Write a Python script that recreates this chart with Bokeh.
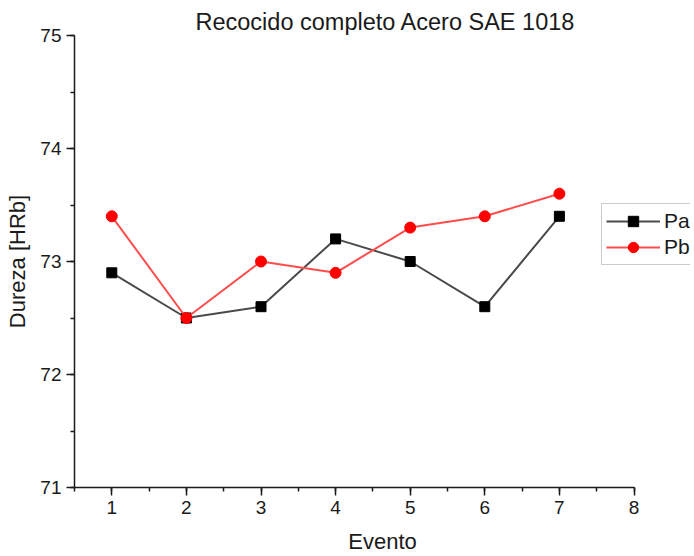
from bokeh.plotting import figure
from bokeh.models import Range1d, SingleIntervalTicker, Legend, LegendItem
from bokeh.embed import file_html
from bokeh.resources import INLINE

evento = [1, 2, 3, 4, 5, 6, 7]
pa = [72.9, 72.5, 72.6, 73.2, 73.0, 72.6, 73.4]
pb = [73.4, 72.5, 73.0, 72.9, 73.3, 73.4, 73.6]

FONT = "Liberation Sans"
INK = "#1a1a1a"

W, H = 690, 556
LEFT, TOP, BOTTOM = 74, 35, H - 35 - 452
# frame: canvas x 74..690, x unit ~74.6 px
p = figure(width=W, height=H, output_backend="svg", toolbar_location=None,
           x_range=Range1d(0.5, 0.5 + (W - LEFT) / 74.6), y_range=Range1d(71, 75),
           min_border_left=LEFT, min_border_right=0, min_border_top=TOP, min_border_bottom=BOTTOM)

p.title.text = "Recocido completo Acero SAE 1018"
p.title.text_font = FONT
p.title.text_font_size = "23.5px"
p.title.text_font_style = "normal"
p.title.align = "left"
p.title.offset = 121
p.title.standoff = 1
p.title.text_color = INK

p.grid.visible = False
p.outline_line_color = None

for ax, lab in ((p.xaxis[0], "Evento"), (p.yaxis[0], "Dureza [HRb]")):
    ax.axis_label = lab
    ax.axis_label_text_font = FONT
    ax.axis_label_text_font_size = "22px"
    ax.axis_label_text_font_style = "normal"
    ax.axis_label_text_color = INK
    ax.major_label_text_font = FONT
    ax.major_label_text_font_size = "19px"
    ax.major_label_text_color = INK
    ax.axis_line_width = 1.5
    ax.axis_line_color = INK
    ax.major_tick_line_color = INK
    ax.minor_tick_line_color = INK
    ax.major_tick_line_width = 1.5
    ax.minor_tick_line_width = 1.5
    ax.major_tick_out = 8
    ax.major_tick_in = 0
    ax.minor_tick_out = 4
    ax.minor_tick_in = 0

p.xaxis[0].ticker = SingleIntervalTicker(interval=1, num_minor_ticks=2)
p.yaxis[0].ticker = SingleIntervalTicker(interval=1, num_minor_ticks=2)
p.xaxis[0].bounds = (0.5, 8)
p.xaxis[0].major_label_standoff = 5
p.xaxis[0].axis_label_standoff = 12
p.yaxis[0].major_label_standoff = 5
p.yaxis[0].axis_label_standoff = 7

la = p.line(evento, pa, line_color="#4a4a4a", line_width=2)
sa = p.scatter(evento, pa, marker="square", size=10, fill_color="black", line_color="black")
lb = p.line(evento, pb, line_color="#ff4d4d", line_width=2)
sb = p.scatter(evento, pb, marker="circle", size=11, fill_color="red", line_color="red")

legend = Legend(items=[LegendItem(label="Pa", renderers=[la, sa]),
                       LegendItem(label="Pb", renderers=[lb, sb])],
                location=(527, 222), orientation="vertical",
                label_text_font=FONT, label_text_font_size="21px",
                label_text_color=INK,
                glyph_width=54, glyph_height=26, spacing=0, padding=4,
                label_standoff=4, label_width=60, margin=0,
                border_line_color="#999999", border_line_width=1.5,
                background_fill_alpha=1.0)
p.add_layout(legend, "center")

open("out.html", "w").write(file_html(p, INLINE))
